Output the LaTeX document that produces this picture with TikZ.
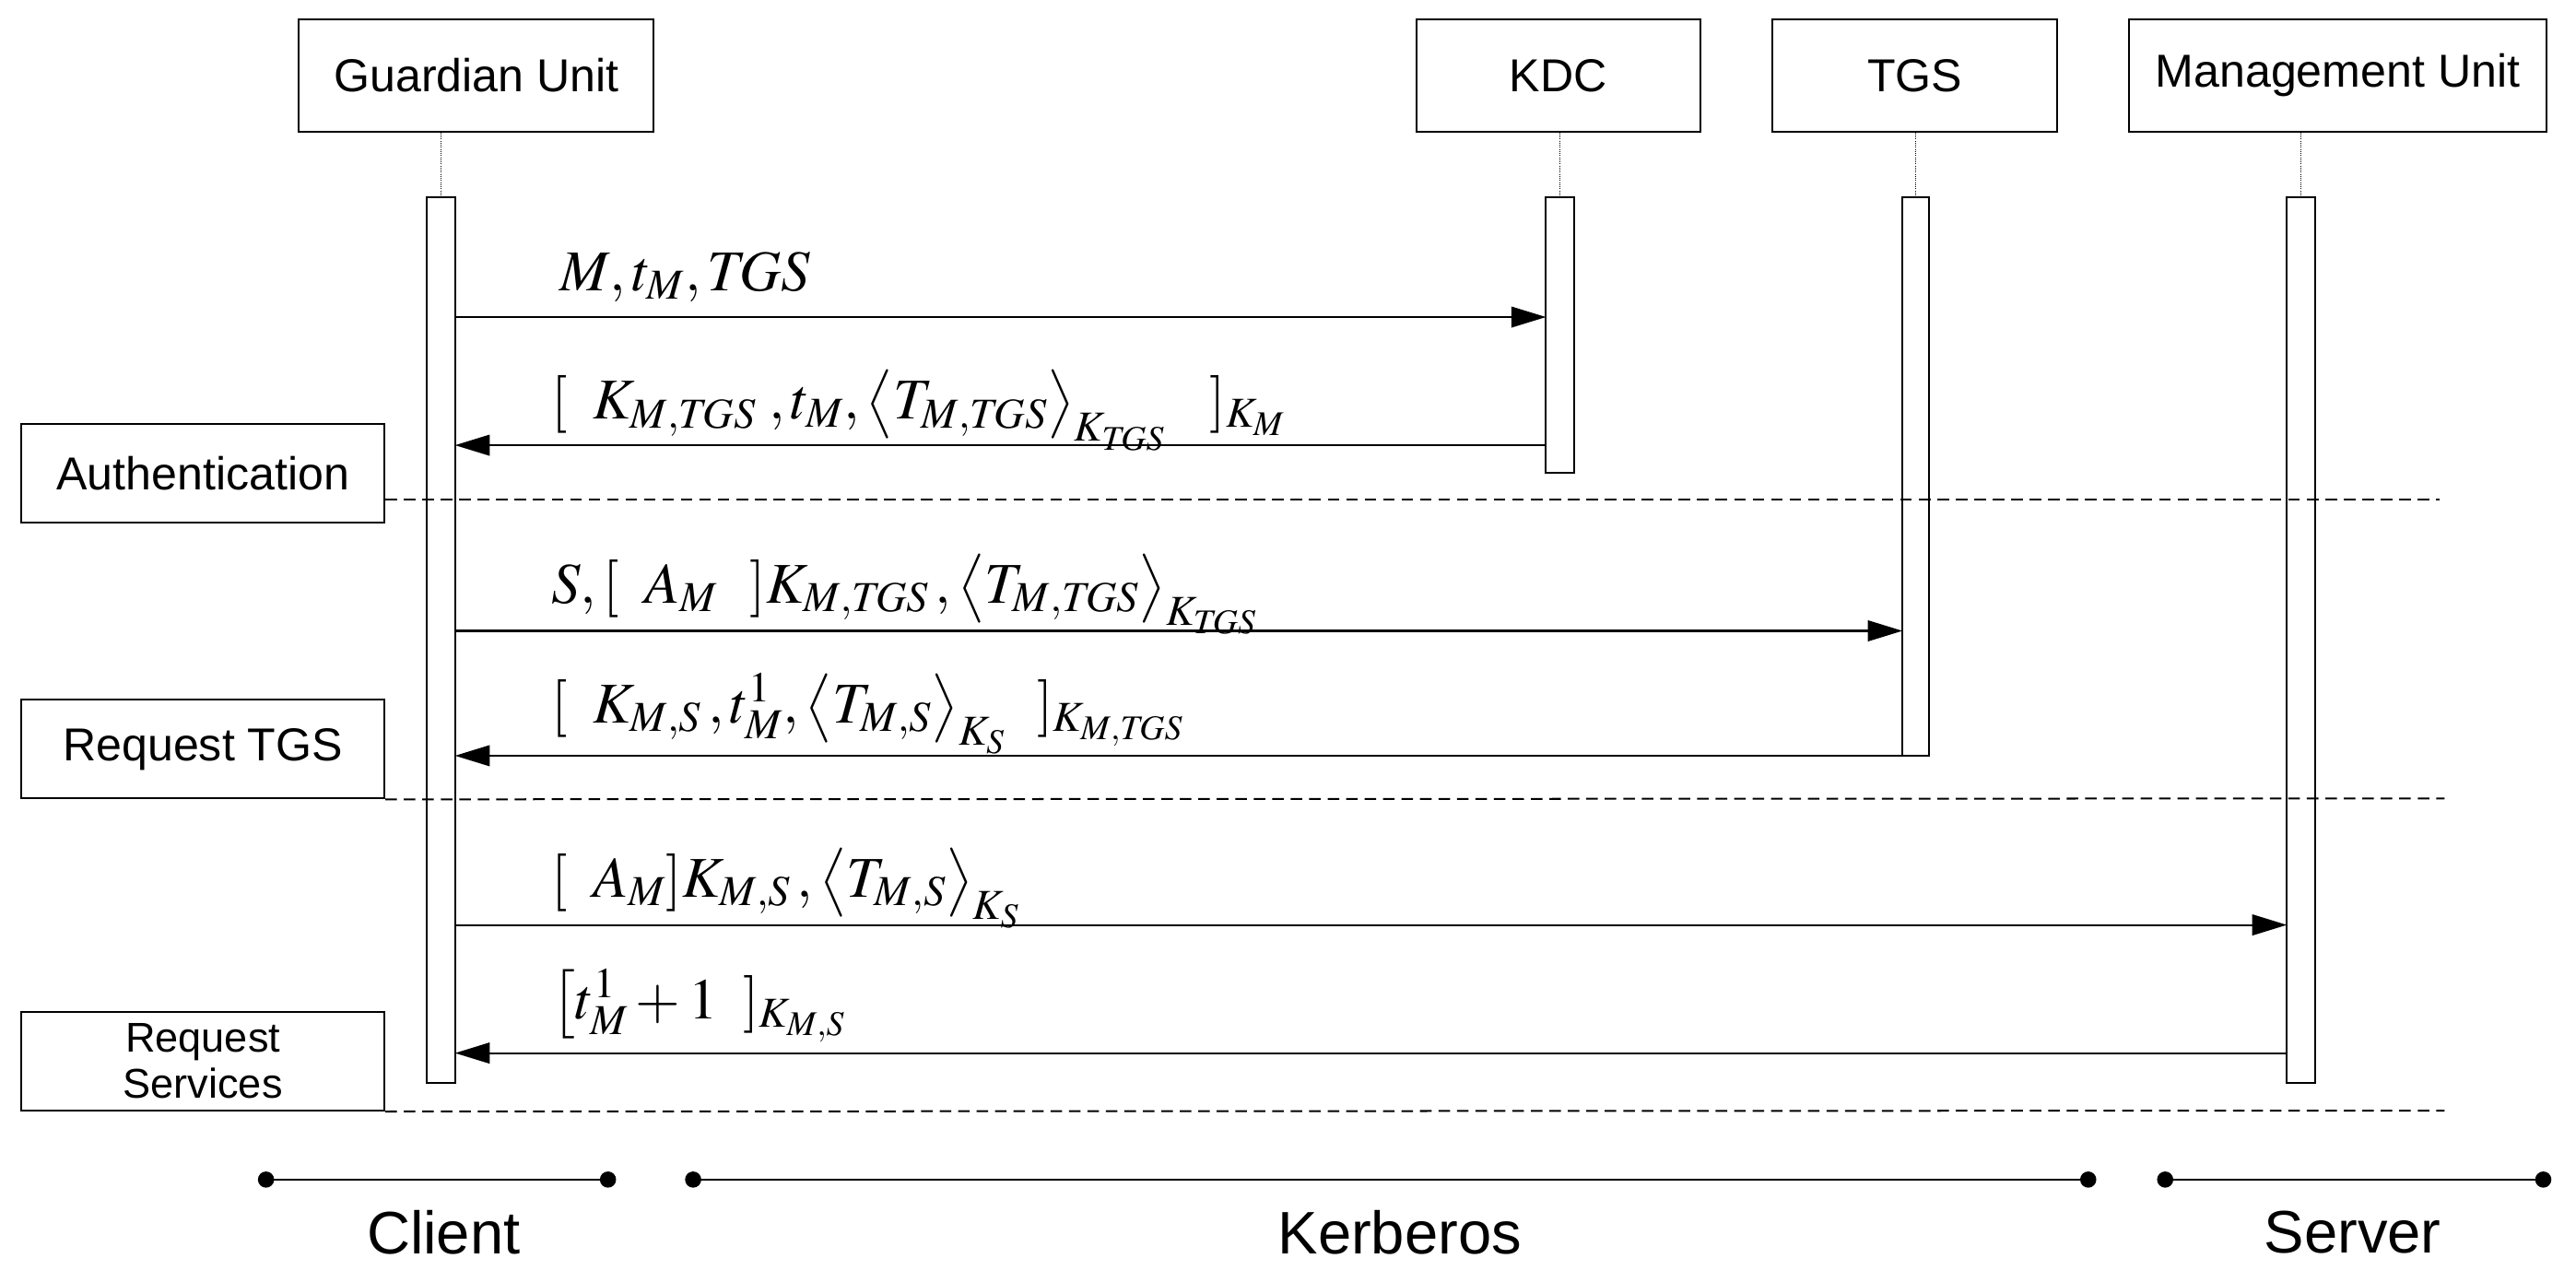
\documentclass[tikz,border=0pt]{standalone}
\usepackage{mathptmx}
\usepackage{fontspec}
\setmainfont{Liberation Sans}
\usetikzlibrary{arrows.meta}
\begin{document}
\begin{tikzpicture}[x=0.05cm,y=-0.05cm,line width=1.6pt,
  box/.style={draw,fill=white,inner sep=0pt,font=\fontsize{40}{44}\selectfont},
  act/.style={draw,fill=white},
  msg/.style={-{Triangle[length=30pt,width=18pt]}},
  lbl/.style={anchor=base west,inner sep=0pt,font=\fontsize{50}{54}\selectfont},
  sep/.style={dash pattern=on 10pt off 6pt},
  bar/.style={{Circle[length=14pt]}-{Circle[length=14pt]}},
  big/.style={font=\fontsize{52}{56}\selectfont}]
\useasboundingbox (0,0) rectangle (1568,780);
% lifeline boxes
\node[box,minimum width=216*0.05cm,minimum height=68*0.05cm] (gu) at (290,46) {Guardian Unit};
\node[box,minimum width=173*0.05cm,minimum height=68*0.05cm] (kdc) at (948.5,46) {KDC};
\node[box,minimum width=173*0.05cm,minimum height=68*0.05cm] (tgs) at (1165.5,46) {TGS};
\node[box,minimum width=254*0.05cm,minimum height=68*0.05cm] (mu) at (1423,46) {Management Unit};
% dotted lifeline stubs
\foreach \n/\x in {gu/268.5,kdc/949.5,tgs/1166,mu/1400.5}{
  \draw[densely dotted,line width=0.8pt] (\n.south -| \x,0) -- (\x,120);}
% activation bars
\draw[act] (260,120) rectangle (277,659);
\draw[act] (941,120) rectangle (958,288);
\draw[act] (1158,120) rectangle (1174,460);
\draw[act] (1392,120) rectangle (1409,659);
\coordinate (g1) at (277,193); \coordinate (k1) at (941,193);
\coordinate (k2) at (941,271); \coordinate (g2) at (277,271);
\coordinate (g3) at (277,384); \coordinate (t3) at (1158,384);
\coordinate (t4) at (1158,460); \coordinate (g4) at (277,460);
\coordinate (g5) at (277,563); \coordinate (m5) at (1392,563);
\coordinate (m6) at (1392,641); \coordinate (g6) at (277,641);
\draw[msg] (g1) -- (k1);
\draw[msg] (k2) -- (g2);
\draw[msg] (g3) -- (t3);
\draw[msg] (t4) -- (g4);
\draw[msg] (g5) -- (m5);
\draw[msg] (m6) -- (g6);
% message labels
\node[lbl] (l1) at (340,177) {$M,t_M,\mathit{TGS}$};
\node[lbl] (l2) at (335,255) {$[\;\;K_{M,\mathit{TGS}}\;,t_M,\big\langle T_{M,\mathit{TGS}}\big\rangle_{K_{\mathit{TGS}}}\;\;\;\,]_{K_M}$};
\node[lbl] (l3) at (335,367) {$S,[\;\;A_M\;\;\,]K_{M,\mathit{TGS}}\,,\big\langle T_{M,\mathit{TGS}}\big\rangle_{K_{\mathit{TGS}}}$};
\node[lbl] (l4) at (335,440) {$[\;\;K_{M,S}\,,t^1_M,\big\langle T_{M,S}\big\rangle_{K_S}\;\;\,]_{K_{M,\mathit{TGS}}}$};
\node[lbl] (l5) at (335,546) {$[\;\;A_M]K_{M,S}\,,\big\langle T_{M,S}\big\rangle_{K_S}$};
\node[lbl] (l6) at (335,620) {$\big[t^1_M+1\;\;]_{K_{M,S}}$};
% phase boxes
\node[box,minimum width=221*0.05cm,minimum height=60*0.05cm] (auth) at (123.5,288) {Authentication};
\node[box,minimum width=221*0.05cm,minimum height=60*0.05cm] (rtgs) at (123.5,456) {Request TGS};
\node[box,minimum width=221*0.05cm,minimum height=60*0.05cm,align=center,font=\fontsize{36}{40}\selectfont] (rsrv) at (123.5,646) {Request\\Services};
\coordinate (d1) at (1485,304); \coordinate (d2) at (1488,486); \coordinate (d3) at (1488,676);
\draw[sep] (auth.east |- d1) -- (d1);
\draw[sep] (rtgs.south east) -- (d2);
\draw[sep] (rsrv.south east) -- (d3);
% bottom groups
\coordinate (c1) at (157,718); \coordinate (c2) at (375,718);
\coordinate (k1b) at (417,718); \coordinate (k2b) at (1276,718);
\coordinate (s1) at (1313,718); \coordinate (s2) at (1553,718);
\draw[bar] (c1) -- (c2);
\draw[bar] (k1b) -- (k2b);
\draw[bar] (s1) -- (s2);
\node[big] (client) at (270,750) {Client};
\node[big] (kerb) at (852,750) {Kerberos};
\node[big] (server) at (1432,750) {Server};
\end{tikzpicture}
\end{document}
